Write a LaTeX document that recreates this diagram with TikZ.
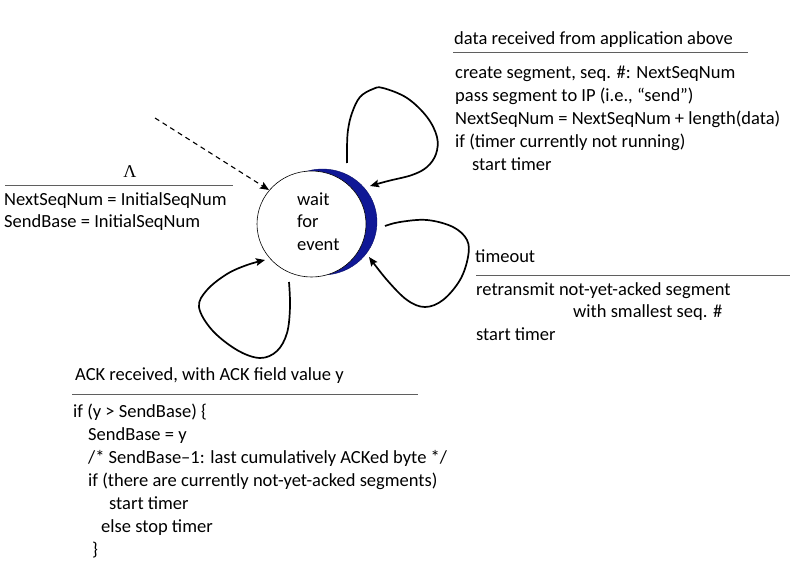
\documentclass[tikz,border=0pt]{standalone}
\usepackage{fontspec}
\setmainfont{Carlito}
\newfontfamily\lamfont{Liberation Serif}
\usetikzlibrary{arrows.meta,shapes.geometric}
\definecolor{crescent}{RGB}{16,24,150}
\definecolor{rulegray}{RGB}{95,95,95}
\tikzset{
  txt/.style={anchor=base west, inner sep=0pt, font=\fontsize{18.5}{22}\selectfont},
  rulel/.style={draw=rulegray, line width=1pt},
  loopc/.style={line width=1.7pt, -{Stealth[length=9pt,width=7.5pt,inset=1.5pt]}},
  initc/.style={line width=1.1pt, dash pattern=on 5pt off 4pt, -{Stealth[length=9pt,width=7.5pt,inset=1.5pt]}},
}
\begin{document}
\begin{tikzpicture}[x=1pt,y=-1pt]
\useasboundingbox (0,0) rectangle (798,567);
% state
\node[ellipse, fill=crescent, draw=crescent!70!black, minimum width=109pt, minimum height=106pt, inner sep=0pt] (shadow) at (322.5,222) {};
\node[ellipse, fill=white, draw=black, line width=0.6pt, minimum width=109pt, minimum height=106pt, inner sep=0pt] (wait) at (311.5,224) {};
\node[txt] (w1) at (297,205) {wait};
\node[txt] (w2) at (297,227) {for};
\node[txt] (w3) at (297,250) {event};

% initial transition
\coordinate (init) at (155,118);
\coordinate (initend) at (269,190);
\draw[initc] (init) -- (initend);
\node[txt, anchor=base, font=\lamfont\fontsize{18}{20}\selectfont] (lam) at (130,178) {Λ};
\coordinate (r1a) at (5,185); \coordinate (r1b) at (233,185);
\draw[rulel] (r1a) -- (r1b);
\node[txt] (i1) at (4,205) {NextSeqNum = InitialSeqNum};
\node[txt] (i2) at (4,227) {SendBase = InitialSeqNum};

% top loop: data received
\coordinate (ts) at (347,163);
\coordinate (te) at (370,186);
\draw[loopc] plot[smooth, tension=0.6] coordinates {(ts) (347,147) (348,130) (352,113) (360,97) (373,89) (383,88) (407,98) (427,117) (437,137) (436,154) (427,167) (412,175) (388,181) (te)};
\node[txt] (d0) at (454,45) {data received from application above};
\coordinate (r2a) at (453,53); \coordinate (r2b) at (748,53);
\draw[rulel] (r2a) -- (r2b);
\node[txt] (d1) at (455,79) {create segment, seq. \#: NextSeqNum};
\node[txt] (d2) at (455,102) {pass segment to IP (i.e., “send”)};
\node[txt] (d3) at (455,125) {NextSeqNum = NextSeqNum + length(data)};
\node[txt] (d4) at (455,148) {if (timer currently not running)};
\node[txt] (d5) at (472,171) {start timer};

% right loop: timeout
\coordinate (rs) at (385,226);
\coordinate (re) at (369,257);
\draw[loopc] plot[smooth, tension=0.6] coordinates {(rs) (400,222) (427,220) (453,227) (467,240) (468,257) (460,280) (443,300) (425,307) (407,300) (387,280) (re)};
\node[txt] (t0) at (475,262) {timeout};
\coordinate (r3a) at (476,275); \coordinate (r3b) at (790,275);
\draw[rulel] (r3a) -- (r3b);
\node[txt] (t1) at (476,295) {retransmit not-yet-acked segment};
\node[txt] (t2) at (573,317) {with smallest seq. \#};
\node[txt] (t3) at (476,340) {start timer};

% bottom-left loop: ACK received
\coordinate (bs) at (289,282);
\coordinate (be) at (265,260);
\draw[loopc] plot[smooth, tension=0.6] coordinates {(bs) (290,307) (287,333) (277,351) (260,358) (237,350) (212,330) (199,307) (207,290) (227,274) (247,265) (be)};
\node[txt] (a0) at (75,380) {ACK received, with ACK field value y};
\coordinate (r4a) at (72,394); \coordinate (r4b) at (418,394);
\draw[rulel] (r4a) -- (r4b);
\node[txt] (a1) at (73,417) {if (y > SendBase) \{};
\node[txt] (a2) at (88,440) {SendBase = y};
\node[txt] (a3) at (88,463) {/* SendBase–1: last cumulatively ACKed byte */};
\node[txt] (a4) at (88,486) {if (there are currently not-yet-acked segments)};
\node[txt] (a5) at (109,509) {start timer};
\node[txt] (a6) at (101,532) {else stop timer};
\node[txt] (a7) at (92,555) {\}};
\end{tikzpicture}
\end{document}
